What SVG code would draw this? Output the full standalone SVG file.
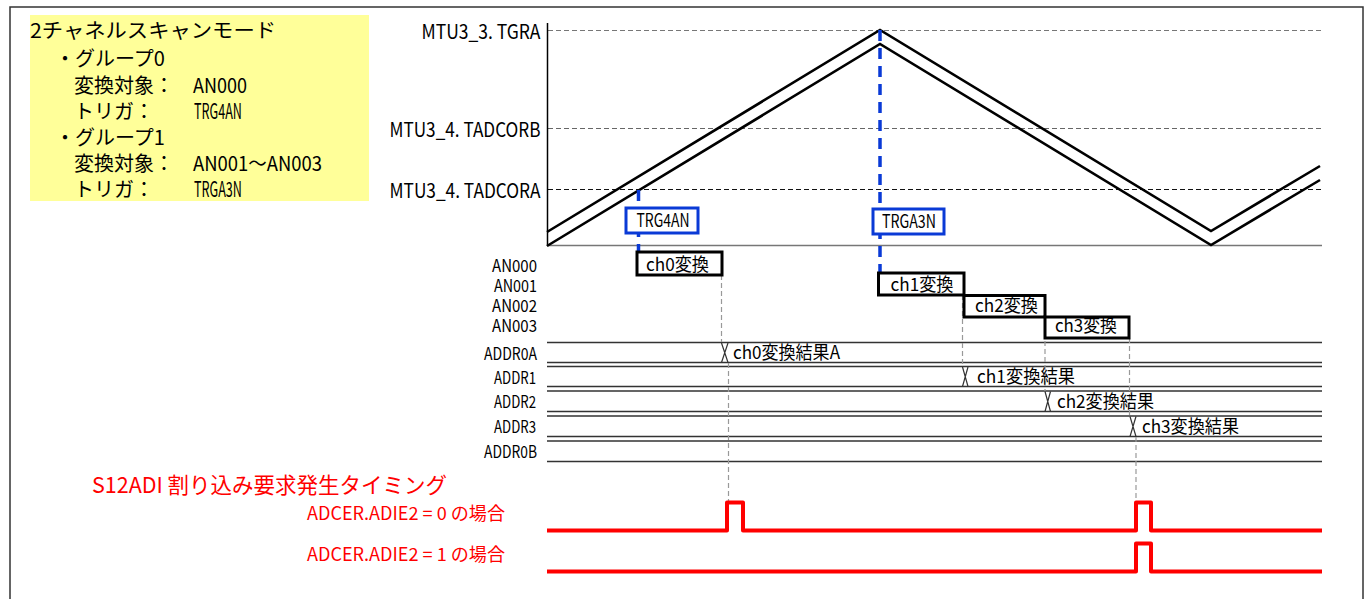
<svg xmlns="http://www.w3.org/2000/svg" width="1370" height="599" viewBox="0 0 1370 599">
<style>
text{font-family:"Noto Sans CJK JP","Noto Sans",sans-serif;fill:#000}
.t20{font-size:20px}
.t18{font-size:18px}
.t17{font-size:17px}
.red{fill:#FF0000}
.tri{fill:none;stroke:#000;stroke-width:2.6}
.ref{stroke-width:1.2;stroke-dasharray:5 3;fill:none}
.blue{stroke:#0A3AD6;stroke-width:3.5;stroke-dasharray:11 7;fill:none}
.bbox{fill:#fff;stroke:#0A3AD6;stroke-width:3}
.kbox{fill:#fff;stroke:#000;stroke-width:3}
.gdash{stroke:#999;stroke-width:1.2;stroke-dasharray:5 3;fill:none}
.row{stroke:#333;stroke-width:1.3;fill:none}
.xm{stroke:#333;stroke-width:1.2;fill:none}
.pulse{fill:none;stroke:#FF0000;stroke-width:4;stroke-linejoin:round}
</style>
<rect x="10" y="7" width="1353" height="620" fill="#fff" stroke="#333" stroke-width="1.5"/>

<g id="legend">
<rect x="30" y="15" width="339" height="186" fill="#FFFF99"/>
<text class="t20" x="30" y="37.5" textLength="246" lengthAdjust="spacingAndGlyphs">2チャネルスキャンモード</text>
<text class="t20" x="55" y="65.5">・グループ0</text>
<text class="t20" x="74" y="93">変換対象：</text>
<text class="t20" x="193" y="93" textLength="54" lengthAdjust="spacingAndGlyphs">AN000</text>
<text class="t20" x="74" y="118.5">トリガ：</text>
<text font-size="21" transform="translate(194,118.5) scale(0.6,1)" x="0" y="0">TRG4AN</text>
<text class="t20" x="55" y="145">・グループ1</text>
<text class="t20" x="74" y="170.5">変換対象：</text>
<text class="t20" x="193" y="170.5" textLength="129" lengthAdjust="spacingAndGlyphs">AN001～AN003</text>
<text class="t20" x="74" y="196.5">トリガ：</text>
<text font-size="21" transform="translate(194,196.5) scale(0.6,1)" x="0" y="0">TRGA3N</text>
</g>

<g id="axis-labels">
<text class="t20" x="540.5" y="39" text-anchor="end" textLength="119" lengthAdjust="spacingAndGlyphs">MTU3_3. TGRA</text>
<text class="t20" x="540.5" y="136.5" text-anchor="end" textLength="151" lengthAdjust="spacingAndGlyphs">MTU3_4. TADCORB</text>
<text class="t20" x="540.5" y="198" text-anchor="end" textLength="151" lengthAdjust="spacingAndGlyphs">MTU3_4. TADCORA</text>
<text class="t17" x="537" y="272" text-anchor="end" textLength="45" lengthAdjust="spacingAndGlyphs">AN000</text>
<text class="t17" x="537" y="291.7" text-anchor="end" textLength="43" lengthAdjust="spacingAndGlyphs">AN001</text>
<text class="t17" x="537" y="311.7" text-anchor="end" textLength="45" lengthAdjust="spacingAndGlyphs">AN002</text>
<text class="t17" x="537" y="332.3" text-anchor="end" textLength="45" lengthAdjust="spacingAndGlyphs">AN003</text>
<text class="t17" x="537" y="360" text-anchor="end" textLength="53" lengthAdjust="spacingAndGlyphs">ADDR0A</text>
<text class="t17" x="536" y="384" text-anchor="end" textLength="42" lengthAdjust="spacingAndGlyphs">ADDR1</text>
<text class="t17" x="536" y="408.3" text-anchor="end" textLength="42" lengthAdjust="spacingAndGlyphs">ADDR2</text>
<text class="t17" x="536" y="433.3" text-anchor="end" textLength="42" lengthAdjust="spacingAndGlyphs">ADDR3</text>
<text class="t17" x="537" y="458.3" text-anchor="end" textLength="53" lengthAdjust="spacingAndGlyphs">ADDR0B</text>
</g>

<g id="connectors">
<path class="ref" stroke="#777" d="M548,30.5H1322"/>
<path class="ref" stroke="#666" d="M548,128.5H1322"/>
<path class="ref" stroke="#111" d="M548,189.5H1322"/>
<path d="M547.5,23V246" stroke="#000" stroke-width="1.5"/>
<path d="M547,245.5H1322" stroke="#777" stroke-width="1.5"/>
<path class="tri" d="M547,232L880,30L1211,231L1320,166"/>
<path class="tri" d="M547,246L880,44L1211,245L1320,180"/>
<path class="blue" d="M638.5,190V252"/>
<path class="blue" d="M880,30V273"/>
<path class="row" d="M547,342.5H1322M547,362.5H1322M547,366.5H1322M547,386.5H1322M547,391H1322M547,411.5H1322M547,416H1322M547,436.5H1322M547,441H1322M547,461.5H1322"/>
<path class="gdash" d="M721.5,275V342M728.5,363V502"/>
<path class="gdash" d="M962.5,295V366"/>
<path class="gdash" d="M1045,317V391"/>
<path class="gdash" d="M1129.5,338V416M1136,437V502"/>
<path class="xm" d="M721.5,343L728,362.5M728,343L721.5,362.5"/>
<path class="xm" d="M962.5,367L968,386.5M968,367L962.5,386.5"/>
<path class="xm" d="M1045,391.5L1050.5,411.5M1050.5,391.5L1045,411.5"/>
<path class="xm" d="M1130,416.5L1136,436.5M1136,416.5L1130,436.5"/>
<path class="pulse" d="M547,530.5H727V502.5H743V530.5H1136V502.5H1151V530.5H1322"/>
<path class="pulse" d="M547,571.5H1136V543.5H1151V571.5H1322"/>
</g>

<g id="trg4an">
<rect class="bbox" x="626" y="208" width="72" height="25"/>
<text class="t18" x="663" y="227.3" text-anchor="middle" textLength="53" lengthAdjust="spacingAndGlyphs">TRG4AN</text>
</g>
<g id="trga3n">
<rect class="bbox" x="873" y="209" width="71" height="25"/>
<text class="t18" x="909" y="228.3" text-anchor="middle" textLength="54" lengthAdjust="spacingAndGlyphs">TRGA3N</text>
</g>

<g id="ch0">
<rect class="kbox" x="637" y="252" width="85" height="23"/>
<text class="t18" x="677.5" y="270.5" text-anchor="middle" textLength="63" lengthAdjust="spacingAndGlyphs">ch0変換</text>
</g>
<g id="ch1">
<rect class="kbox" x="878.5" y="273" width="85.5" height="22"/>
<text class="t18" x="922" y="291" text-anchor="middle" textLength="63" lengthAdjust="spacingAndGlyphs">ch1変換</text>
</g>
<g id="ch2">
<rect class="kbox" x="964" y="295.5" width="81" height="21.5"/>
<text class="t18" x="1006.5" y="311.7" text-anchor="middle" textLength="63" lengthAdjust="spacingAndGlyphs">ch2変換</text>
</g>
<g id="ch3">
<rect class="kbox" x="1045" y="317" width="84" height="21"/>
<text class="t18" x="1086" y="331.7" text-anchor="middle" textLength="62" lengthAdjust="spacingAndGlyphs">ch3変換</text>
</g>

<g id="results">
<text class="t18" x="733" y="359.3" textLength="107" lengthAdjust="spacingAndGlyphs">ch0変換結果A</text>
<text class="t18" x="977" y="383.3" textLength="98" lengthAdjust="spacingAndGlyphs">ch1変換結果</text>
<text class="t18" x="1057" y="408.3" textLength="97" lengthAdjust="spacingAndGlyphs">ch2変換結果</text>
<text class="t18" x="1142" y="433.3" textLength="97" lengthAdjust="spacingAndGlyphs">ch3変換結果</text>
</g>

<g id="interrupt-labels">
<text class="red" font-size="22" x="92" y="493" textLength="355" lengthAdjust="spacingAndGlyphs">S12ADI 割り込み要求発生タイミング</text>
<text class="red t18" x="307" y="520" textLength="198" lengthAdjust="spacingAndGlyphs">ADCER.ADIE2 = 0 の場合</text>
<text class="red t18" x="307" y="560.5" textLength="198" lengthAdjust="spacingAndGlyphs">ADCER.ADIE2 = 1 の場合</text>
</g>
</svg>
